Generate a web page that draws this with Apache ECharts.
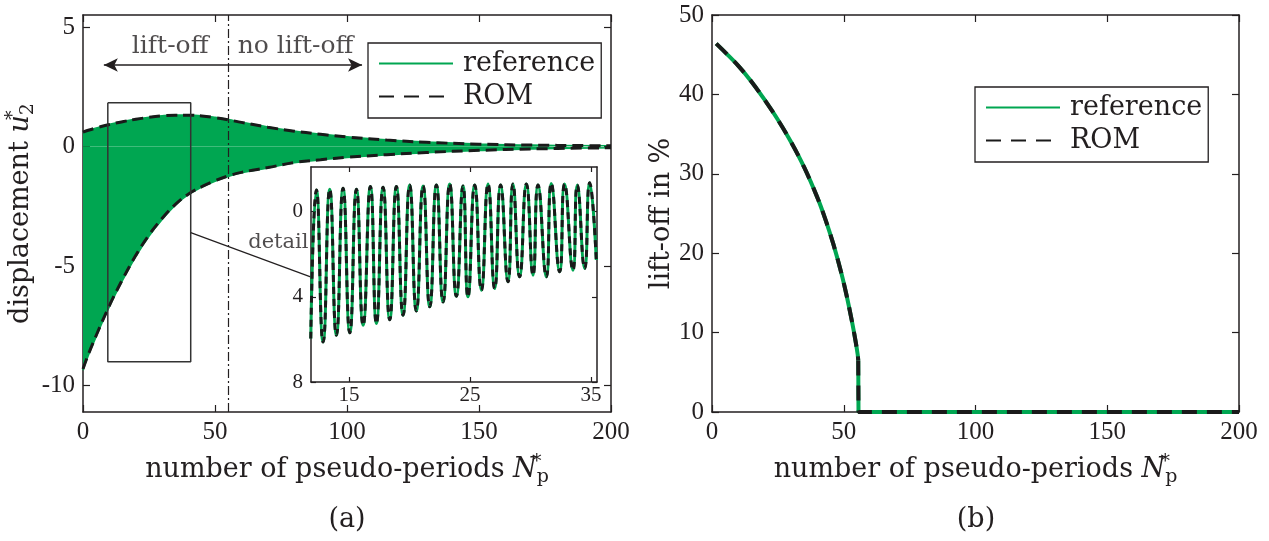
<!DOCTYPE html>
<html><head><meta charset="utf-8">
<script src="https://cdn.jsdelivr.net/npm/echarts@6/dist/echarts.min.js"></script>
<style>html,body{margin:0;padding:0;background:#fff}#c{width:1269px;height:541px}</style>
</head><body><div id="c"></div>
<script>
// ---------- (a) displacement envelope (pseudo-period N*, displacement u2*) ----------
const envN     = [0, 2, 5, 10, 15, 20, 25, 30, 35, 40, 45, 50, 55, 60, 70, 80, 90, 100, 115, 130, 150, 170, 200];
const refUpper = [0.60, 0.68, 0.78, 0.93, 1.05, 1.15, 1.23, 1.29, 1.32, 1.32, 1.29, 1.22, 1.13, 1.02, 0.82, 0.65, 0.52, 0.41, 0.28, 0.19, 0.11, 0.06, 0.03];
const refLower = [-9.35, -8.75, -7.95, -6.7, -5.6, -4.6, -3.75, -3.05, -2.45, -2.0, -1.7, -1.45, -1.25, -1.1, -0.9, -0.68, -0.56, -0.46, -0.35, -0.26, -0.17, -0.1, -0.05];
const romUpper = [0.60, 0.68, 0.78, 0.92, 1.04, 1.14, 1.22, 1.28, 1.31, 1.31, 1.28, 1.21, 1.12, 1.01, 0.81, 0.64, 0.51, 0.40, 0.27, 0.18, 0.10, 0.06, 0.03];
const romLower = [-9.3, -8.7, -7.9, -6.65, -5.55, -4.55, -3.7, -3.0, -2.42, -1.98, -1.68, -1.43, -1.23, -1.08, -0.88, -0.67, -0.55, -0.45, -0.34, -0.25, -0.16, -0.1, -0.05];
const liftOffBoundary = 55;          // N* where lift-off stops
const detailN = [9.4, 40.8];         // detail window (N*)
const detailU = [-9.0, 1.83];        // detail window (u2*)

// ---------- inset "detail": extrema of the oscillation ----------
const detailExtN = [11.83, 12.30, 12.85, 13.40, 13.95, 14.50, 15.06, 15.61, 16.16, 16.76, 17.26, 17.81, 18.36, 18.91, 19.46, 20.01, 20.56, 21.12, 21.67, 22.22, 22.77, 23.32, 23.87, 24.42, 24.83, 25.39, 25.94, 26.49, 27.04, 27.53, 28.14, 28.55, 29.10, 29.66, 30.21, 30.62, 31.31, 31.72, 32.41, 32.82, 33.51, 33.87, 34.48, 34.89, 35.44];
const detailExtU = [-5.96, 1.02, -6.12, 1.05, -5.80, 1.10, -5.69, 1.05, -5.33, 1.18, -5.25, 1.15, -5.07, 1.18, -4.86, 1.25, -4.66, 1.21, -4.47, 1.25, -4.24, 1.30, -3.97, 1.21, -4.00, 1.25, -3.69, 1.30, -3.61, 1.25, -3.29, 1.30, -3.06, 1.30, -2.98, 1.25, -3.06, 1.33, -2.82, 1.30, -2.75, 1.25, -2.67, 1.36, -2.27];

// ---------- (b) lift-off percentage ----------
const liftN   = [1.6, 5, 10, 15, 20, 25, 30, 35, 40, 43, 46, 49, 51, 53, 54.5, 55.3, 55.5, 55.6, 200];
const liftRef = [46.4, 45.3, 43.6, 41.6, 39.3, 36.8, 34.0, 30.8, 27.0, 24.3, 21.2, 17.6, 14.8, 11.6, 8.9, 7.2, 6.5, 0, 0];
const liftRom = [46.4, 45.3, 43.6, 41.6, 39.3, 36.8, 34.0, 30.8, 27.0, 24.3, 21.2, 17.6, 14.8, 11.6, 8.9, 7.2, 6.5, 0, 0];
const liftDropIndex = 16;            // last point of the smooth part, before the jump to 0

// ---------- tick values ----------
const xTicks      = [0, 50, 100, 150, 200];
const yTicksA     = [-10, -5, 0, 5];
const insetXTicks = [15, 25, 35];
const insetYTicks = [-8, -4, 0];
const yTicksB     = [0, 10, 20, 30, 40, 50];

const GREEN = '#00a651', INK = '#231f20', DASH = '#1a1a1a';
const SERIF = 'DejaVu Serif', NUM = 'Liberation Serif';
const zip = (a, b) => a.map((v, i) => [v, b[i]]);

function nameStyle(extra) {
  return Object.assign({
    fontFamily: SERIF, fontSize: 27, color: INK,
    rich: {
      t: {fontFamily: SERIF, fontSize: 27, color: INK, lineHeight: 34},
      i: {fontFamily: SERIF, fontSize: 27, color: INK, fontStyle: 'italic', lineHeight: 34},
      s: {fontFamily: SERIF, fontSize: 19, color: INK, width: 0, verticalAlign: 'top', lineHeight: 18},
      p: {fontFamily: SERIF, fontSize: 19, color: INK, verticalAlign: 'bottom', lineHeight: 18}
    }
  }, extra || {});
}
function frameAxis(base) {
  return Object.assign({
    type: 'value',
    axisLine: {show: true, onZero: false, lineStyle: {color: INK, width: 1.5}},
    axisTick: {show: true, inside: true, length: 7, lineStyle: {color: INK, width: 1.2}},
    axisLabel: {show: false},
    splitLine: {show: false}
  }, base);
}
const tickLabel = {show: true, fontFamily: NUM, fontSize: 25, color: INK, margin: 8};
const legendBase = {
  orient: 'vertical', data: ['reference', 'ROM'],
  itemWidth: 74, itemHeight: 14, itemGap: 0, padding: [4, 6, 5, 10],
  borderColor: INK, borderWidth: 1.3, backgroundColor: '#fff',
  itemStyle: {opacity: 0},
  textStyle: {fontFamily: SERIF, fontSize: 27, color: INK, lineHeight: 33, padding: [0, 0, 0, 5]}
};
const liftCurveRef = zip(liftN, liftRef).slice(0, liftDropIndex + 1);
const liftStepRef  = zip(liftN, liftRef).slice(liftDropIndex);
const liftCurveRom = zip(liftN, liftRom).slice(0, liftDropIndex + 1);
const liftStepRom  = zip(liftN, liftRom).slice(liftDropIndex);

const option = {
  animation: false,
  backgroundColor: '#fff',
  grid: [
    {left: 83, top: 15, width: 528, height: 397},
    {left: 311, top: 167, width: 286, height: 215, show: true, backgroundColor: '#fff', borderWidth: 0, z: 5},
    {left: 712, top: 15, width: 527, height: 397}
  ],
  xAxis: [
    frameAxis({gridIndex: 0, min: 0, max: 200, interval: 50, position: 'bottom',
      axisLabel: tickLabel,
      name: '{t|number of pseudo-periods }{i|N}{s|*}{p|p}', nameLocation: 'middle', nameGap: 41,
      nameTextStyle: nameStyle()}),
    frameAxis({gridIndex: 0, min: 0, max: 200, interval: 50, position: 'top'}),
    frameAxis({gridIndex: 1, min: 11.85, max: 35.5, position: 'bottom', z: 6,
      axisTick: {show: true, inside: true, length: 5, customValues: insetXTicks, lineStyle: {color: INK, width: 1.2}},
      axisLabel: {show: true, customValues: insetXTicks, fontFamily: NUM, fontSize: 21, color: INK, margin: 3}}),
    frameAxis({gridIndex: 1, min: 11.85, max: 35.5, position: 'top', z: 6,
      axisTick: {show: true, inside: true, length: 5, customValues: insetXTicks, lineStyle: {color: INK, width: 1.2}}}),
    frameAxis({gridIndex: 2, min: 0, max: 200, interval: 50, position: 'bottom',
      axisLabel: tickLabel,
      name: '{t|number of pseudo-periods }{i|N}{s|*}{p|p}', nameLocation: 'middle', nameGap: 41,
      nameTextStyle: nameStyle()}),
    frameAxis({gridIndex: 2, min: 0, max: 200, interval: 50, position: 'top'})
  ],
  yAxis: [
    frameAxis({gridIndex: 0, min: -11.1, max: 5.5, position: 'left',
      axisTick: {show: true, inside: true, length: 7, customValues: yTicksA, lineStyle: {color: INK, width: 1.2}},
      axisLabel: Object.assign({}, tickLabel, {customValues: yTicksA}),
      name: '{t|displacement }{i|u}{s|*}{p|2}', nameLocation: 'middle', nameGap: 36, nameRotate: 90,
      nameTextStyle: nameStyle()}),
    frameAxis({gridIndex: 0, min: -11.1, max: 5.5, position: 'right',
      axisTick: {show: true, inside: true, length: 7, customValues: yTicksA, lineStyle: {color: INK, width: 1.2}}}),
    frameAxis({gridIndex: 1, min: -8, max: 2.1, position: 'left', z: 6,
      axisTick: {show: true, inside: true, length: 5, customValues: insetYTicks, lineStyle: {color: INK, width: 1.2}},
      axisLabel: {show: true, customValues: insetYTicks, fontFamily: NUM, fontSize: 21, color: INK, margin: 8,
        formatter: v => String(Math.abs(v))}}),
    frameAxis({gridIndex: 1, min: -8, max: 2.1, position: 'right', z: 6,
      axisTick: {show: true, inside: true, length: 5, customValues: insetYTicks, lineStyle: {color: INK, width: 1.2}}}),
    frameAxis({gridIndex: 2, min: 0, max: 50, interval: 10, position: 'left',
      axisLabel: tickLabel,
      name: 'lift-off in %', nameLocation: 'middle', nameGap: 35, nameRotate: 90,
      nameTextStyle: nameStyle()}),
    frameAxis({gridIndex: 2, min: 0, max: 50, interval: 10, position: 'right'})
  ],
  legend: [
    Object.assign({left: 368, top: 43}, legendBase),
    Object.assign({left: 975, top: 87}, legendBase)
  ],
  graphic: [
    {type: 'text', x: 347, y: 520, style: {text: '(a)', font: '27px "DejaVu Serif"', fill: INK, align: 'center', verticalAlign: 'middle'}},
    {type: 'text', x: 976, y: 520, style: {text: '(b)', font: '27px "DejaVu Serif"', fill: INK, align: 'center', verticalAlign: 'middle'}}
  ],
  series: [
    // (b) lift-off
    {name: 'reference', type: 'line', xAxisIndex: 4, yAxisIndex: 4, data: liftCurveRef, smooth: 0.35,
      symbol: 'none', lineStyle: {color: GREEN, width: 4}, itemStyle: {color: GREEN}, z: 3},
    {name: 'ROM', type: 'line', xAxisIndex: 4, yAxisIndex: 4, data: liftCurveRom, smooth: 0.35,
      symbol: 'none', lineStyle: {color: DASH, width: 4, type: [15, 10]}, itemStyle: {color: DASH}, z: 4},
    {name: 'reference', type: 'line', xAxisIndex: 4, yAxisIndex: 4, data: liftStepRef,
      symbol: 'none', lineStyle: {color: GREEN, width: 4}, itemStyle: {color: GREEN}, z: 3},
    {name: 'ROM', type: 'line', xAxisIndex: 4, yAxisIndex: 4, data: liftStepRom,
      symbol: 'none', lineStyle: {color: DASH, width: 4, type: [15, 10]}, itemStyle: {color: DASH}, z: 4},
    // (a) envelope band
    {name: 'reference', type: 'line', xAxisIndex: 0, yAxisIndex: 0, data: zip(envN, refUpper), smooth: 0.4,
      symbol: 'none', lineStyle: {color: GREEN, width: 1.5}, areaStyle: {color: GREEN, opacity: 1, origin: 0}, z: 2},
    {name: 'reference', type: 'line', xAxisIndex: 0, yAxisIndex: 0, data: zip(envN, refLower), smooth: 0.4,
      symbol: 'none', lineStyle: {color: GREEN, width: 1.5}, areaStyle: {color: GREEN, opacity: 1, origin: 0}, z: 2},
    {name: 'ROM', type: 'line', xAxisIndex: 0, yAxisIndex: 0, data: zip(envN, romUpper), smooth: 0.4,
      symbol: 'none', lineStyle: {color: DASH, width: 3, type: [11, 6]}, z: 3},
    {name: 'ROM', type: 'line', xAxisIndex: 0, yAxisIndex: 0, data: zip(envN, romLower), smooth: 0.4,
      symbol: 'none', lineStyle: {color: DASH, width: 3, type: [11, 6]}, z: 3},
    // (a) annotations
    {name: 'annot', type: 'line', xAxisIndex: 0, yAxisIndex: 0, data: [], symbol: 'none', silent: true,
      markLine: {silent: true, animation: false, label: {show: false},
        data: [
          [{coord: [liftOffBoundary, -11.1], symbol: 'none', lineStyle: {color: INK, width: 1.2, type: [9, 3, 2, 3]}},
           {coord: [liftOffBoundary, 5.5], symbol: 'none'}],
          [{coord: [7.9, 3.41], symbol: 'arrow', symbolSize: [10, 14], lineStyle: {color: INK, width: 1.5, type: 'solid'}},
           {coord: [105.7, 3.41], symbol: 'arrow', symbolSize: [10, 14]}]
        ]}},
    {name: 'box', type: 'line', xAxisIndex: 0, yAxisIndex: 0, silent: true, symbol: 'none', z: 4,
      data: [[detailN[0], detailU[1]], [detailN[1], detailU[1]], [detailN[1], detailU[0]], [detailN[0], detailU[0]], [detailN[0], detailU[1]]],
      lineStyle: {color: '#333', width: 1.5}},
    {name: 'connector', type: 'line', xAxisIndex: 0, yAxisIndex: 0, silent: true, symbol: 'none', z: 4,
      data: [[detailN[1], -3.6], [86.2, -5.45]], lineStyle: {color: INK, width: 1.2}},
    {name: 'text', type: 'scatter', xAxisIndex: 0, yAxisIndex: 0, silent: true, symbolSize: 0, z: 6,
      data: [
        {value: [33, 4.17], label: {formatter: 'lift-off'}},
        {value: [80.5, 4.17], label: {formatter: 'no lift-off'}},
        {value: [74, -4.03], label: {formatter: 'detail', fontSize: 21}}
      ],
      label: {show: true, position: 'inside', fontFamily: SERIF, fontSize: 25, color: INK}},
    // inset detail
    {name: 'reference', type: 'line', xAxisIndex: 2, yAxisIndex: 2, data: zip(detailExtN, detailExtU), smooth: 0.55,
      symbol: 'none', lineStyle: {color: GREEN, width: 3}, z: 7},
    {name: 'ROM', type: 'line', xAxisIndex: 2, yAxisIndex: 2, data: zip(detailExtN, detailExtU), smooth: 0.55,
      symbol: 'none', lineStyle: {color: DASH, width: 3, type: [7, 5]}, z: 8}
  ]
};
const chart = echarts.init(document.getElementById('c'), null, {renderer: 'canvas'});
chart.setOption(option);
</script></body></html>
